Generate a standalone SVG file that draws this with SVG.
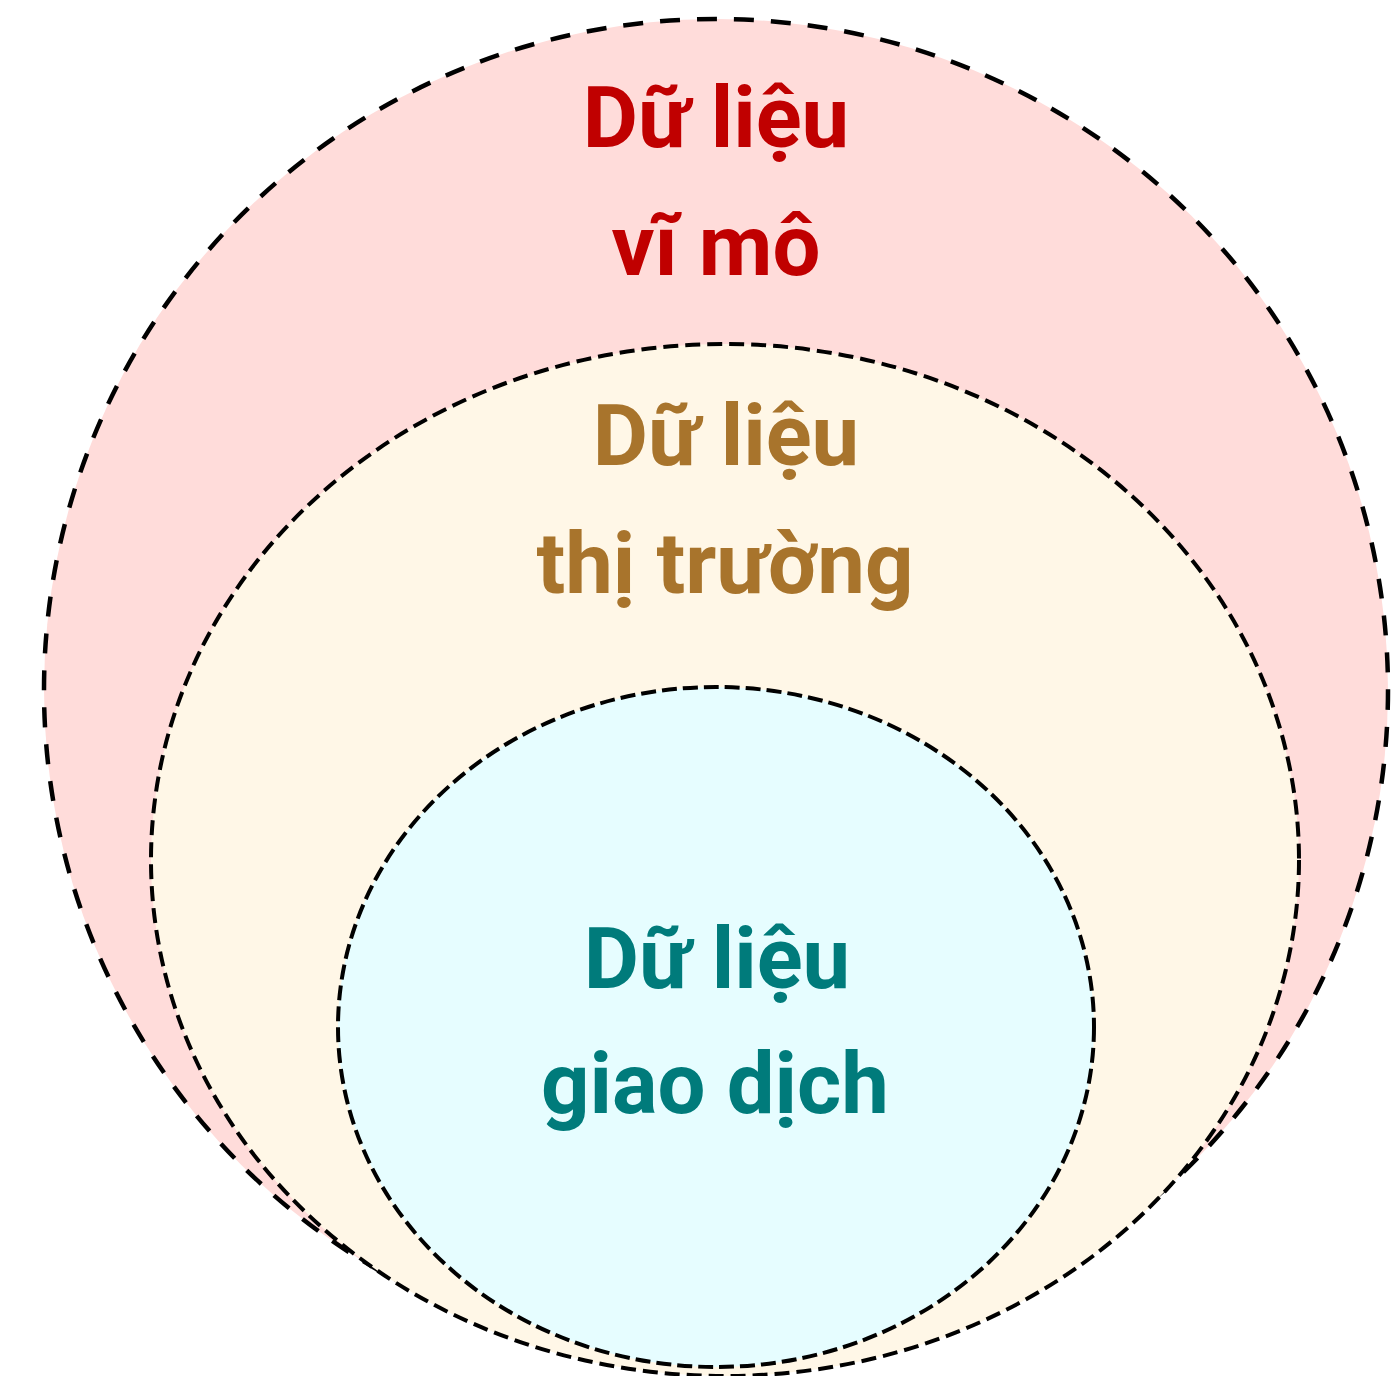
<svg xmlns="http://www.w3.org/2000/svg" width="1395" height="1376" viewBox="0 0 1395 1376">
<style>
.ring{stroke:#000;stroke-width:4}
.r1{stroke-width:4.5;stroke-dasharray:20 17}
.r2{stroke-dasharray:15 7}
.r3{stroke-dasharray:15 6}
.lbl{font-family:Roboto,"Liberation Sans",sans-serif;font-weight:700;font-size:85px;text-anchor:middle}
</style>
<rect width="1395" height="1376" fill="#fff"/>
<g id="outer">
<ellipse class="ring r1" cx="716" cy="690" rx="672" ry="671" fill="#FFDCDA"/>
</g>
<g id="middle">
<ellipse class="ring r2" cx="725" cy="860" rx="574" ry="516" fill="#FFF7E7"/>
</g>
<g id="inner">
<ellipse class="ring r3" cx="716" cy="1027" rx="378" ry="340" fill="#E6FDFF"/>
</g>
<g id="labels">
<text class="lbl" fill="#C00000" x="716" y="147">Dữ liệu</text>
<text class="lbl" fill="#C00000" x="716" y="275">vĩ mô</text>
<text class="lbl" fill="#A8742C" x="726" y="465">Dữ liệu</text>
<text class="lbl" fill="#A8742C" x="725" y="593">thị trường</text>
<text class="lbl" fill="#007B7B" x="717" y="988">Dữ liệu</text>
<text class="lbl" fill="#007B7B" x="715" y="1113">giao dịch</text>
</g>
<g id="connectors"></g>
</svg>
